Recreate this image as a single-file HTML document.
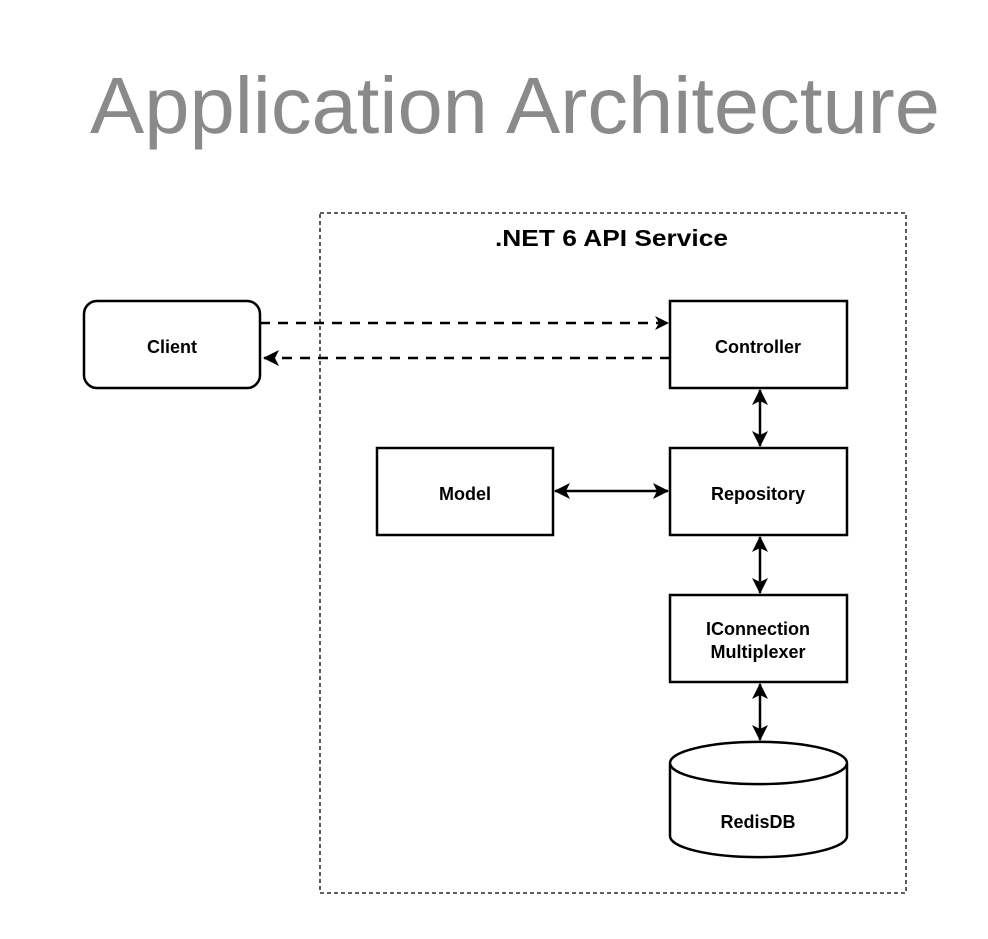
<!DOCTYPE html>
<html><head><style>body{margin:0;background:#fff}</style></head><body>
<svg width="988" height="934" xmlns="http://www.w3.org/2000/svg" font-family="Liberation Sans, Arial, sans-serif">
<defs>
<marker id="b" markerWidth="16" markerHeight="16" refX="15" refY="8" orient="auto-start-reverse" markerUnits="userSpaceOnUse"><path d="M0,0 L16,8 L0,16 L4,8 Z" fill="#000"/></marker>
<marker id="c" markerWidth="14" markerHeight="14" refX="13" refY="7" orient="auto-start-reverse" markerUnits="userSpaceOnUse"><path d="M0,0 L14,7 L0,14 L4,7 Z" fill="#000"/></marker>
</defs>
<text x="90" y="133" font-size="80" fill="#8a8a8a" textLength="850" lengthAdjust="spacingAndGlyphs">Application Architecture</text>
<rect x="320" y="213" width="586" height="680" fill="none" stroke="#000" stroke-width="1.3" stroke-dasharray="4,3"/>
<text x="495" y="246" font-size="23" font-weight="bold" textLength="233" lengthAdjust="spacingAndGlyphs">.NET 6 API Service</text>
<g fill="#fff" stroke="#000" stroke-width="2.5">
<rect x="84" y="301" width="176" height="87" rx="13"/>
<rect x="670" y="301" width="177" height="87"/>
<rect x="670" y="448" width="177" height="87"/>
<rect x="377" y="448" width="176" height="87"/>
<rect x="670" y="595" width="177" height="87"/>
<path d="M670,763 L670,836 A88,21 0 0 0 847,836 L847,763 A88,21 0 0 0 670,763 A88,21 0 0 0 847,763"/>
</g>
<g stroke="#000" stroke-width="2.5" fill="none">
<line x1="260" y1="323" x2="668" y2="323" stroke-dasharray="10,8" marker-end="url(#c)"/>
<line x1="670" y1="358" x2="264" y2="358" stroke-dasharray="10,8" marker-end="url(#b)"/>
<line x1="760" y1="390" x2="760" y2="446" marker-start="url(#b)" marker-end="url(#b)"/>
<line x1="555" y1="491" x2="668" y2="491" marker-start="url(#b)" marker-end="url(#b)"/>
<line x1="760" y1="537" x2="760" y2="593" marker-start="url(#b)" marker-end="url(#b)"/>
<line x1="760" y1="684" x2="760" y2="740" marker-start="url(#b)" marker-end="url(#b)"/>
</g>
<g font-size="18" font-weight="bold" text-anchor="middle">
<text x="172" y="353">Client</text>
<text x="758" y="353">Controller</text>
<text x="758" y="500">Repository</text>
<text x="465" y="500">Model</text>
<text x="758" y="635">IConnection</text>
<text x="758" y="658">Multiplexer</text>
<text x="758" y="828">RedisDB</text>
</g>
</svg>
</body></html>
